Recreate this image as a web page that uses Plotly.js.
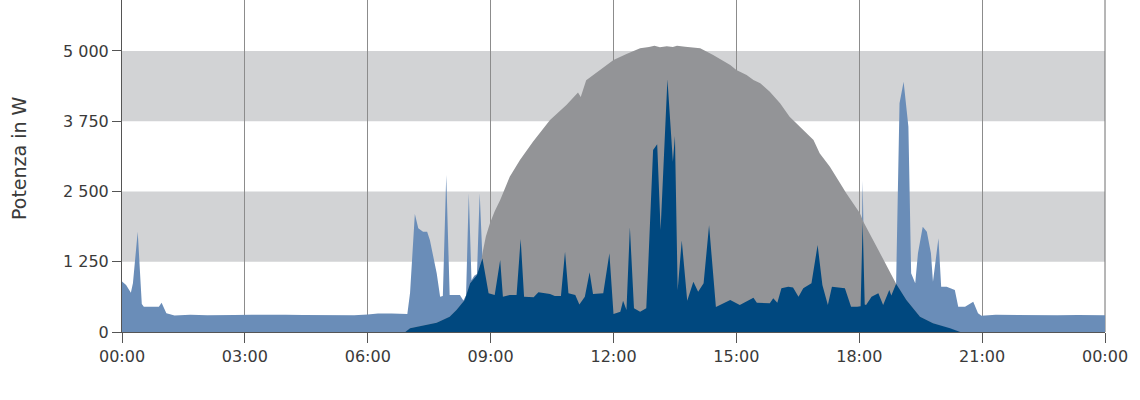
<!DOCTYPE html>
<html>
<head>
<meta charset="utf-8">
<script src="https://cdn.plot.ly/plotly-3.0.1.min.js"></script>
<style>
  html, body { margin: 0; padding: 0; background: #ffffff; }
  #chart { width: 1140px; height: 400px; }
</style>
</head>
<body>
<div id="chart"></div>
<script>
// ---------- DATA ----------
const xTickTimes = ["00:00", "03:00", "06:00", "09:00", "12:00", "15:00", "18:00", "21:00", "24:00"];
const xTickLabels = ["00:00", "03:00", "06:00", "09:00", "12:00", "15:00", "18:00", "21:00", "00:00"];
const yTickValues = [0, 1250, 2500, 3750, 5000];
const yTickLabels = ["0", "1 250", "2 500", "3 750", "5 000"];
const bandRanges = [[1250, 2500], [3750, 5000]];
const yTitle = "Potenza in W";

// Consumo (light blue)
const consTimes = ["00:00","00:06","00:13","00:16","00:23","00:29","00:32","00:54","00:58","01:05","01:17","01:40","02:05","02:20","02:45","03:10","03:35","04:00","04:25","04:50","05:15","05:40","06:00","06:15","06:35","06:50","06:58","07:02","07:06","07:09","07:14","07:21","07:27","07:31","07:41","07:46","07:50","07:55","08:00","08:15","08:20","08:24","08:28","08:32","08:36","08:40","08:44","08:48",
  "08:57","09:06","09:14","09:18","09:28","09:38","09:44","09:49","10:03","10:10","10:27","10:34","10:43","10:49","10:54","11:04","11:10","11:18","11:25","11:30","11:45","11:54","12:00","12:10","12:14","12:19","12:24","12:30","12:39","12:48","12:51","12:58","13:04","13:09","13:19","13:27","13:30","13:34","13:40","13:48","13:57","14:04","14:12","14:20","14:30","14:51","15:05","15:25","15:30","15:49","15:54","16:00","16:06","16:16","16:23","16:31","16:38","16:50","16:59","17:06","17:14","17:20","17:39","17:48","17:57",
  "18:02","18:05","18:08","18:10","18:18","18:28","18:35","18:44","18:47","18:54","18:59","19:05","19:12","19:16","19:22","19:26","19:33","19:39","19:45","19:48","19:56","20:00","20:08","20:20","20:25","20:35","20:47","20:54","20:59","21:20","21:50","22:20","22:50","23:20","23:45","24:00"];
const consValues = [900,836,700,866,1784,498,450,450,521,332,295,305,300,306,304,306,300,305,302,298,304,300,312,330,328,322,320,700,1500,2100,1845,1784,1784,1637,1044,628,640,2793,658,658,560,650,2467,920,1000,1030,2467,1311,
  688,658,1281,628,658,658,1654,628,617,706,676,640,640,1429,688,658,490,628,1062,676,688,1400,320,361,557,391,1862,421,361,421,1222,3238,3339,1815,4496,3030,3487,747,1630,557,895,717,866,1900,445,569,480,610,521,510,599,520,777,806,790,628,777,866,1548,836,480,806,777,450,450,
  460,2690,500,480,628,688,480,747,650,860,4069,4453,3652,1044,866,1400,1874,1784,1400,895,1667,806,806,747,450,450,539,332,290,305,300,306,300,304,300,300];

// Produzione (grey)
const prodTimes = ["00:00","06:55","07:02","07:17","07:41","08:00","08:10","08:22","08:30","08:40","08:46","08:49","08:53","08:59","09:06","09:14","09:28","09:43","10:02","10:27","10:51","11:08","11:12","11:20","11:40","12:00","12:19","12:39","12:52","13:00","13:08","13:18","13:27","13:33","13:45","14:07","14:26","14:51","15:00","15:15","15:25","15:35","15:49","16:04","16:18","16:33","16:53","17:02","17:17","17:32","17:41","18:01","18:06","18:28","18:54","19:09","19:29","19:48","20:13","20:28","24:00"];
const prodValues = [0,0,65,107,166,272,391,569,866,1014,1250,1459,1700,1934,2150,2348,2763,3060,3386,3771,4038,4260,4180,4480,4661,4839,4946,5047,5070,5095,5065,5085,5070,5095,5075,5047,4928,4750,4661,4572,4483,4424,4275,4069,3830,3652,3416,3179,2941,2645,2467,2112,1962,1459,860,569,272,154,65,0,0];

// Autoconsumo (dark blue)
const selfTimes = ["00:00","06:55","07:02","07:17","07:41","08:00","08:10","08:22","08:30","08:40","08:48",
  "08:57","09:06","09:14","09:18","09:28","09:38","09:44","09:49","10:03","10:10","10:27","10:34","10:43","10:49","10:54","11:04","11:10","11:18","11:25","11:30","11:45","11:54","12:00","12:10","12:14","12:19","12:24","12:30","12:39","12:48","12:51","12:58","13:04","13:09","13:19","13:27","13:30","13:34","13:40","13:48","13:57","14:04","14:12","14:20","14:30","14:51","15:05","15:25","15:30","15:49","15:54","16:00","16:06","16:16","16:23","16:31","16:38","16:50","16:59","17:06","17:14","17:20","17:39","17:48","17:57",
  "18:02","18:05","18:08","18:10","18:18","18:28","18:35","18:44","18:47","18:54","19:09","19:29","19:48","20:13","20:28","24:00"];
const selfValues = [0,0,65,107,166,272,391,569,866,1014,1311,
  688,658,1281,628,658,658,1654,628,617,706,676,640,640,1429,688,658,490,628,1062,676,688,1400,320,361,557,391,1862,421,361,421,1222,3238,3339,1815,4496,3030,3487,747,1630,557,895,717,866,1900,445,569,480,610,521,510,599,520,777,806,790,628,777,866,1548,836,480,806,777,450,450,
  460,1962,490,480,628,688,480,747,650,860,569,272,154,65,0,0];

// ---------- CHART ----------
function toDate(t) {
  const hh = parseInt(t.slice(0, 2), 10);
  const mm = t.slice(3, 5);
  if (hh >= 24) return "2024-01-02 00:" + mm;
  return "2024-01-01 " + String(hh).padStart(2, "0") + ":" + mm;
}

const FONT = "DejaVu Sans, sans-serif";
const TEXT = "#3a3a3a";

const traces = [
  { x: consTimes.map(toDate), y: consValues, type: "scatter", mode: "lines",
    fill: "tozeroy", fillcolor: "#6a8db8", line: { width: 0, color: "#6a8db8" }, hoverinfo: "skip", name: "Consumo" },
  { x: prodTimes.map(toDate), y: prodValues, type: "scatter", mode: "lines",
    fill: "tozeroy", fillcolor: "#939497", line: { width: 0, color: "#939497" }, hoverinfo: "skip", name: "Produzione" },
  { x: selfTimes.map(toDate), y: selfValues, type: "scatter", mode: "lines",
    fill: "tozeroy", fillcolor: "#00487f", line: { width: 0, color: "#00487f" }, hoverinfo: "skip", name: "Autoconsumo" }
];

const shapes = bandRanges.map(b => ({
  type: "rect", xref: "paper", yref: "y", x0: 0, x1: 1, y0: b[0], y1: b[1],
  fillcolor: "#d2d3d5", line: { width: 0 }, layer: "below"
}));
shapes.push({ type: "line", xref: "paper", yref: "paper", x0: 1, x1: 1, y0: 0, y1: 1,
  line: { color: "#6e6e6e", width: 1 }, layer: "below" });

const layout = {
  width: 1140, height: 400,
  margin: { l: 122, r: 35, t: 0, b: 68 },
  paper_bgcolor: "#ffffff", plot_bgcolor: "rgba(0,0,0,0)",
  showlegend: false,
  font: { family: FONT, size: 16, color: TEXT },
  xaxis: {
    type: "date",
    range: [toDate("00:00"), toDate("24:00")],
    tickmode: "array", tickvals: xTickTimes.map(toDate), ticktext: xTickLabels,
    ticks: "outside", ticklen: 10, tickcolor: "#555555", tickwidth: 1,
    showline: true, linecolor: "#555555", linewidth: 1,
    showgrid: true, gridcolor: "#8c8c8c", gridwidth: 1,
    zeroline: false, fixedrange: true,
    tickfont: { family: FONT, size: 16, color: TEXT }
  },
  yaxis: {
    range: [0, 5907],
    tickmode: "array", tickvals: yTickValues, ticktext: yTickLabels,
    ticks: "outside", ticklen: 9, tickcolor: "#555555", tickwidth: 1,
    showline: true, linecolor: "#555555", linewidth: 1,
    showgrid: false, zeroline: false, fixedrange: true,
    tickfont: { family: FONT, size: 16, color: TEXT }
  },
  annotations: [{
    text: yTitle, xref: "paper", yref: "paper",
    x: (19 - 122) / 983, y: (332 - 158) / 332,
    xanchor: "center", yanchor: "middle", textangle: -90, showarrow: false,
    font: { family: FONT, size: 19, color: TEXT }
  }],
  shapes: shapes
};

Plotly.newPlot("chart", traces, layout, { staticPlot: true, displayModeBar: false });
</script>
</body>
</html>
